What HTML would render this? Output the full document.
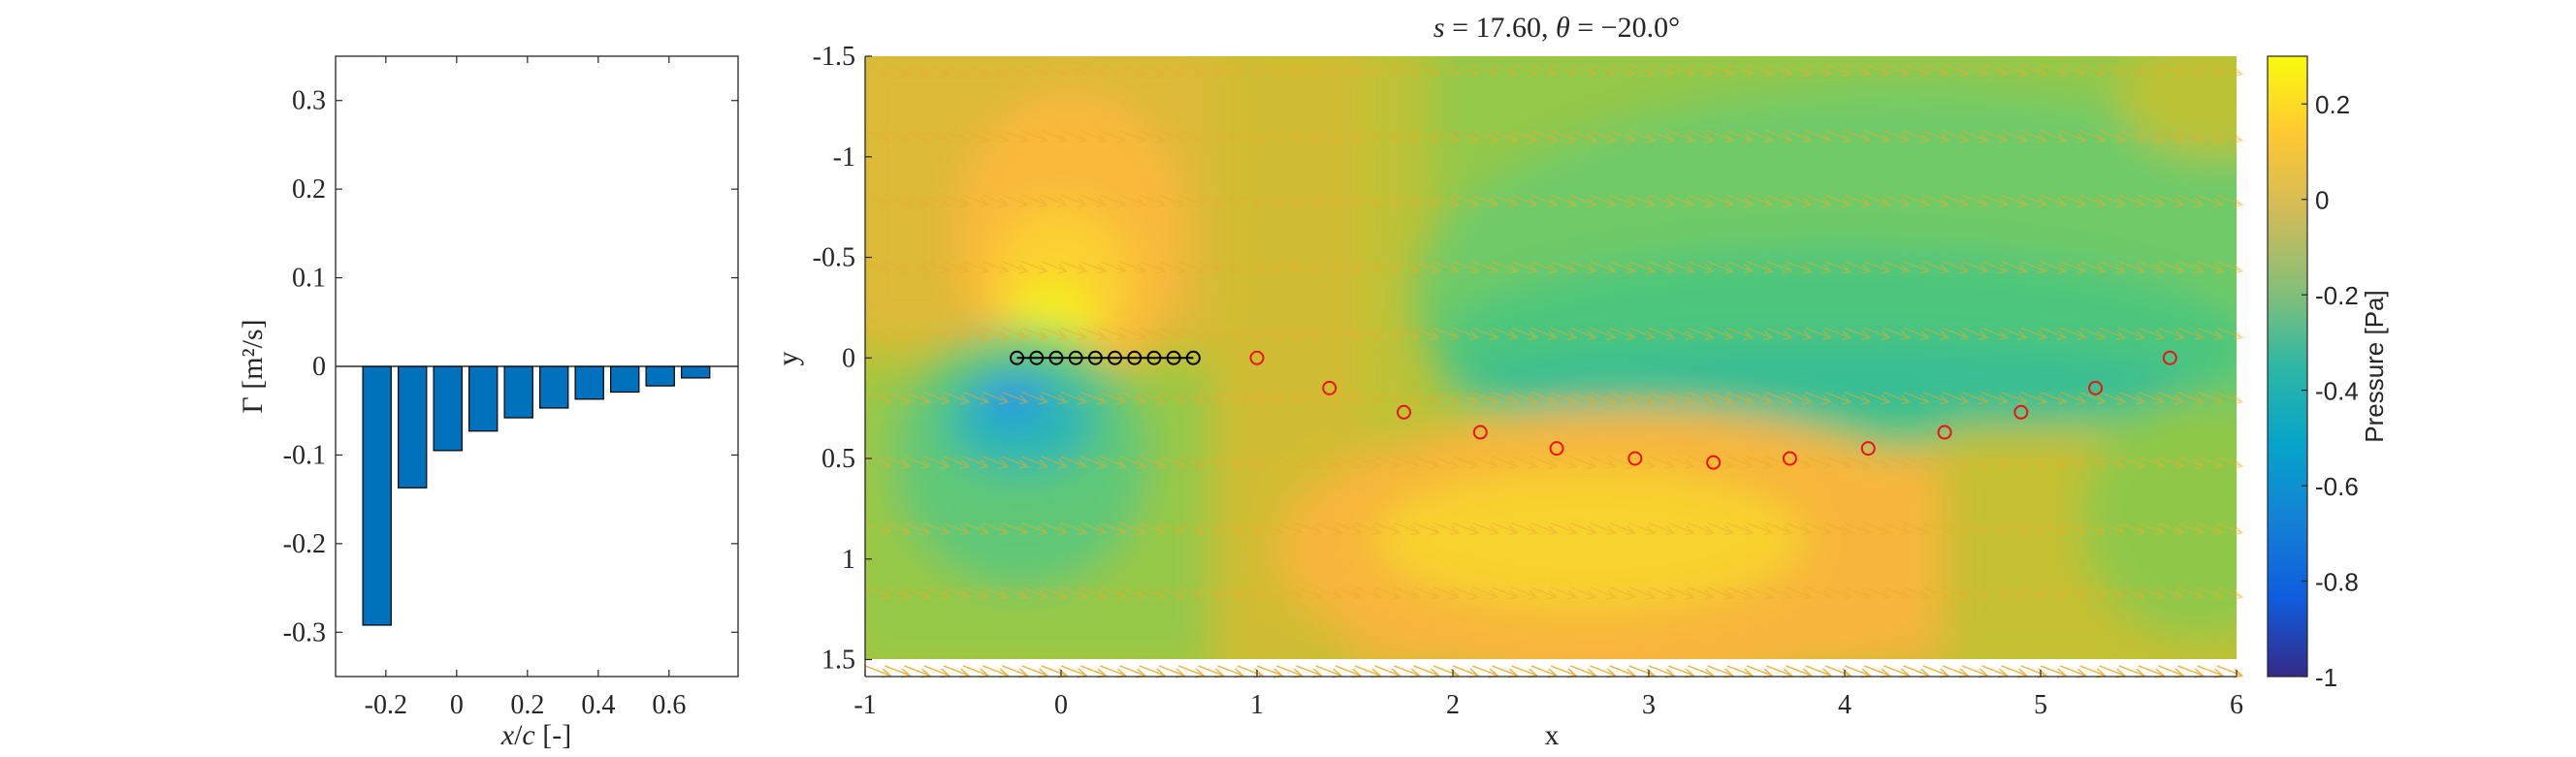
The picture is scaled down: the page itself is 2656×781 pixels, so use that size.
<!DOCTYPE html>
<html><head><meta charset="utf-8"><style>
html,body{margin:0;padding:0;background:#fff;width:2656px;height:781px;overflow:hidden;}
svg{display:block;}
.ser{font-family:"Liberation Serif",serif;fill:#262626;}
.san{font-family:"Liberation Sans",sans-serif;fill:#262626;}
</style></head><body>
<svg id="fig" width="2656" height="781" viewBox="0 0 2656 781" xmlns="http://www.w3.org/2000/svg">
<defs>
<clipPath id="clipMain"><rect x="892" y="58" width="1414" height="622"/></clipPath>
<filter id="blur" x="-20%" y="-20%" width="140%" height="140%"><feGaussianBlur stdDeviation="20"/></filter>
<linearGradient id="parula" x1="0" y1="1" x2="0" y2="0">
<stop offset="0" stop-color="#352A87"/><stop offset="0.125" stop-color="#0F5CDD"/><stop offset="0.25" stop-color="#1481D6"/><stop offset="0.375" stop-color="#06A4CA"/><stop offset="0.5" stop-color="#2EB7A4"/><stop offset="0.625" stop-color="#87BF77"/><stop offset="0.75" stop-color="#D1BB59"/><stop offset="0.875" stop-color="#FEC832"/><stop offset="1" stop-color="#F9FB0E"/>
</linearGradient>
</defs>
<g id="left"></g>
<g id="main"></g>
<g id="cbar"></g>
</svg>
<script>
// ---- left bar chart data ----
const barPositions = [-0.225,-0.125,-0.025,0.075,0.175,0.275,0.375,0.475,0.575,0.675];
const barValues = [-0.292,-0.137,-0.095,-0.073,-0.058,-0.047,-0.037,-0.029,-0.022,-0.013];
const leftXTicks = [-0.2,0,0.2,0.4,0.6];
const leftXTickLabels = ["-0.2","0","0.2","0.4","0.6"];
const leftYTicks = [-0.3,-0.2,-0.1,0,0.1,0.2,0.3];
const leftYTickLabels = ["-0.3","-0.2","-0.1","0","0.1","0.2","0.3"];
// ---- main plot data ----
const mainXTicks = [-1,0,1,2,3,4,5,6];
const mainXTickLabels = ["-1","0","1","2","3","4","5","6"];
const mainYTicks = [-1.5,-1,-0.5,0,0.5,1,1.5];
const mainYTickLabels = ["-1.5","-1","-0.5","0","0.5","1","1.5"];
const wingX = [-0.225,-0.125,-0.025,0.075,0.175,0.275,0.375,0.475,0.575,0.675];
const wingY = [0,0,0,0,0,0,0,0,0,0];
const wakeX = [1.0,1.37,1.75,2.14,2.53,2.93,3.33,3.72,4.12,4.51,4.9,5.28,5.66];
const wakeY = [0,0.15,0.27,0.37,0.45,0.5,0.52,0.5,0.45,0.37,0.27,0.15,0];
const arrowRowsY = [-1.43,-1.1,-0.78,-0.45,-0.12,0.2,0.52,0.85,1.17,1.56];
const cbarTicks = [-1,-0.8,-0.6,-0.4,-0.2,0,0.2];
const cbarTickLabels = ["-1","-0.8","-0.6","-0.4","-0.2","0","0.2"];

const NS="http://www.w3.org/2000/svg";
function mk(parent,tag,attrs,name,text){const e=document.createElementNS(NS,tag);for(const k in attrs)e.setAttribute(k,attrs[k]);


if(text!==undefined)e.textContent=text;parent.appendChild(e);return e;}

// ---- left axes ----
const L=document.getElementById('left');
const lx0=346,lx1=761,ly0=58,ly1=698,lxmin=-0.342,lxmax=0.795,lymin=-0.35,lymax=0.35;
const LX=v=>lx0+(v-lxmin)/(lxmax-lxmin)*(lx1-lx0);
const LY=v=>ly1-(v-lymin)/(lymax-lymin)*(ly1-ly0);
mk(L,'rect',{x:lx0,y:ly0,width:lx1-lx0,height:ly1-ly0,fill:'#fff'},'left-plot-area');
barPositions.forEach((p,i)=>{const v=barValues[i];const w=(LX(0.08)-LX(0));
 mk(L,'rect',{x:LX(p)-w/2,y:Math.min(LY(v),LY(0)),width:w,height:Math.abs(LY(v)-LY(0)),fill:'#0072BD',stroke:'#000','stroke-width':1.2},'bar-'+i);});
mk(L,'line',{x1:lx0,x2:lx1,y1:LY(0),y2:LY(0),stroke:'#000','stroke-width':1.2},'zero-line');
mk(L,'rect',{x:lx0,y:ly0,width:lx1-lx0,height:ly1-ly0,fill:'none',stroke:'#262626','stroke-width':1.3},'left-axes-box');
leftXTicks.forEach((t,i)=>{const x=LX(t);
 mk(L,'line',{x1:x,x2:x,y1:ly1,y2:ly1-7,stroke:'#262626','stroke-width':1.2},'left-x-tick');
 mk(L,'line',{x1:x,x2:x,y1:ly0,y2:ly0+7,stroke:'#262626','stroke-width':1.2},'left-x-tick-top');
 mk(L,'text',{x:x,y:ly1+38,'text-anchor':'middle','font-size':28,class:'ser'},'left-x-tick-label',leftXTickLabels[i]);});
leftYTicks.forEach((t,i)=>{const y=LY(t);
 mk(L,'line',{x1:lx0,x2:lx0+7,y1:y,y2:y,stroke:'#262626','stroke-width':1.2},'left-y-tick');
 mk(L,'line',{x1:lx1,x2:lx1-7,y1:y,y2:y,stroke:'#262626','stroke-width':1.2},'left-y-tick-right');
 mk(L,'text',{x:lx0-10,y:y+9,'text-anchor':'end','font-size':28,class:'ser'},'left-y-tick-label',leftYTickLabels[i]);});
mk(L,'text',{x:270,y:378,'text-anchor':'middle','font-size':30,class:'ser',transform:'rotate(-90 270 378)'},'left-y-axis-title','Γ [m²/s]');
const xl=mk(L,'text',{x:553,y:768,'text-anchor':'middle','font-size':30,class:'ser'},'left-x-axis-title','');
xl.innerHTML='<tspan font-style="italic">x</tspan>/<tspan font-style="italic">c</tspan> [-]';

// ---- main axes ----
const M=document.getElementById('main');
const mx0=892,mx1=2306,my0=58,myb=698;
const X=v=>mx0+(v+1)/7*(mx1-mx0);
const Y=v=>my0+(v+1.5)*207.5;
const field=mk(M,'g',{'clip-path':'url(#clipMain)'},'contour-field');
mk(field,'rect',{x:mx0,y:my0,width:mx1-mx0,height:622,fill:'#bcc236'},'field-background');
const fb=mk(field,'g',{filter:'url(#blur)'},'contour-blobs');
const clampX=v=>Math.max(-1.1,Math.min(6.1,v));
const clampY=v=>Math.max(-1.6,Math.min(1.55,v));
function R(x0,x1,y0,y1,c,n){x0=clampX(x0);x1=clampX(x1);y0=clampY(y0);y1=clampY(y1);
 mk(fb,'rect',{x:X(x0),y:Y(y0),width:X(x1)-X(x0),height:Y(y1)-Y(y0),fill:c},n);}
function E(cx,cy,rx,ry,c,n){mk(fb,'ellipse',{cx:X(cx),cy:Y(cy),rx:rx*202,ry:ry*207.5,fill:c},n);}
R(-2,0.85,-2.5,-0.08,'#ddb937','upper-left-region');
R(-2,0.8,0.08,2.5,'#95c846','lower-left-region');
R(0.78,1.55,-2.5,2.5,'#d0bc30','vertical-band');
R(1.9,7,-2.5,0.28,'#93c84a','upper-right-region');
E(4.3,-0.3,2.5,1.05,'#6fca68','upper-right-ellipse');
E(4.0,-0.05,2.1,0.5,'#4dc67c','wake-mid-ellipse');
E(3.9,0.12,1.9,0.2,'#38be93','wake-low-ellipse');
R(1.5,4.6,0.45,2.5,'#eeb53a','lower-mid-region');
E(2.9,0.95,1.8,0.7,'#f7b63a','lower-orange-ellipse');
E(2.7,0.9,1.1,0.35,'#f8d22e','lower-yellow-ellipse');
R(4.5,7,0.35,2.5,'#c5c032','lower-right-region');
E(5.8,0.8,0.6,0.6,'#8fc84a','far-right-green');
E(5.9,-1.3,0.5,0.3,'#bcc236','top-right-olive');
E(0.05,-0.6,0.6,0.72,'#f9b93b','suction-bubble');
E(0.0,-0.38,0.36,0.38,'#fbd030','suction-inner');
E(-0.05,-0.22,0.22,0.16,'#f5f016','suction-core');
E(-0.2,0.5,0.65,0.65,'#5ec877','pressure-region');
E(-0.2,0.32,0.38,0.25,'#2ab6b5','pressure-inner');
E(-0.25,0.2,0.16,0.09,'#2a8ef0','pressure-core');
// strip white background
mk(M,'rect',{x:mx0,y:680,width:mx1-mx0,height:18,fill:'#fff'},'bottom-strip');
// arrows
const ag=mk(M,'g',{},'velocity-arrows');
arrowRowsY.forEach((ry,ri)=>{
 const strip=ri===arrowRowsY.length-1;
 for(let x=-1;x<5.95;x+=0.1){
  const sx=X(x),sy=Y(ry)-6,ex=sx+26,ey=sy+10;
  mk(ag,'path',{d:`M${sx},${sy}L${ex},${ey}M${ex-8},${ey-7}L${ex},${ey}L${ex-9},${ey+2}`,stroke:'#e9ae2c','stroke-width':1.4,fill:'none',opacity:strip?0.9:0.5},'velocity-arrow');
 }});
// wing
let d='';wingX.forEach((x,i)=>{d+=(i?'L':'M')+X(x)+','+Y(wingY[i]);});
mk(M,'path',{d:d,stroke:'#000','stroke-width':2,fill:'none'},'wing-line');
wingX.forEach((x,i)=>mk(M,'circle',{cx:X(x),cy:Y(wingY[i]),r:6.5,fill:'none',stroke:'#000','stroke-width':2},'wing-vortex-marker'));
wakeX.forEach((x,i)=>mk(M,'circle',{cx:X(x),cy:Y(wakeY[i]),r:6.5,fill:'none',stroke:'#e8141a','stroke-width':2},'wake-vortex-marker'));
// axes
mk(M,'line',{x1:mx0,x2:mx1,y1:myb,y2:myb,stroke:'#262626','stroke-width':1.3},'main-x-axis');
mk(M,'line',{x1:mx0,x2:mx0,y1:my0,y2:myb,stroke:'#262626','stroke-width':1.3},'main-y-axis');
mainXTicks.forEach((t,i)=>{const x=X(t);
 mk(M,'line',{x1:x,x2:x,y1:myb,y2:myb-7,stroke:'#262626','stroke-width':1.2},'main-x-tick');
 mk(M,'text',{x:x,y:myb+38,'text-anchor':'middle','font-size':28,class:'ser'},'main-x-tick-label',mainXTickLabels[i]);});
mainYTicks.forEach((t,i)=>{const y=Y(t);
 mk(M,'line',{x1:mx0,x2:mx0+7,y1:y,y2:y,stroke:'#262626','stroke-width':1.2},'main-y-tick');
 mk(M,'text',{x:mx0-10,y:y+9,'text-anchor':'end','font-size':28,class:'ser'},'main-y-tick-label',mainYTickLabels[i]);});
mk(M,'text',{x:1600,y:768,'text-anchor':'middle','font-size':30,class:'ser'},'main-x-axis-title','x');
mk(M,'text',{x:822,y:370,'text-anchor':'middle','font-size':30,class:'ser',transform:'rotate(-90 822 370)'},'main-y-axis-title','y');
const tt=mk(M,'text',{x:1605,y:38,'text-anchor':'middle','font-size':30,class:'ser'},'plot-title','');
tt.innerHTML='<tspan font-style="italic">s</tspan> = 17.60, <tspan font-style="italic">θ</tspan> = −20.0°';

// ---- colorbar ----
const C=document.getElementById('cbar');
const cx0=2338,cx1=2379,cy0=58,cy1=698;
const CY=v=>cy1-(v+1)/1.3*(cy1-cy0);
mk(C,'rect',{x:cx0,y:cy0,width:cx1-cx0,height:cy1-cy0,fill:'url(#parula)',stroke:'#262626','stroke-width':1.2},'colorbar-gradient');
cbarTicks.forEach((t,i)=>{const y=CY(t);
 mk(C,'line',{x1:cx1,x2:cx1-6,y1:y,y2:y,stroke:'#262626','stroke-width':1.2},'colorbar-tick');
 mk(C,'text',{x:cx1+8,y:y+10,'font-size':26,class:'san'},'colorbar-tick-label',cbarTickLabels[i]);});
mk(C,'text',{x:2457,y:378,'text-anchor':'middle','font-size':26,class:'san',transform:'rotate(-90 2457 378)'},'colorbar-title','Pressure [Pa]');
</script>
</body></html>
